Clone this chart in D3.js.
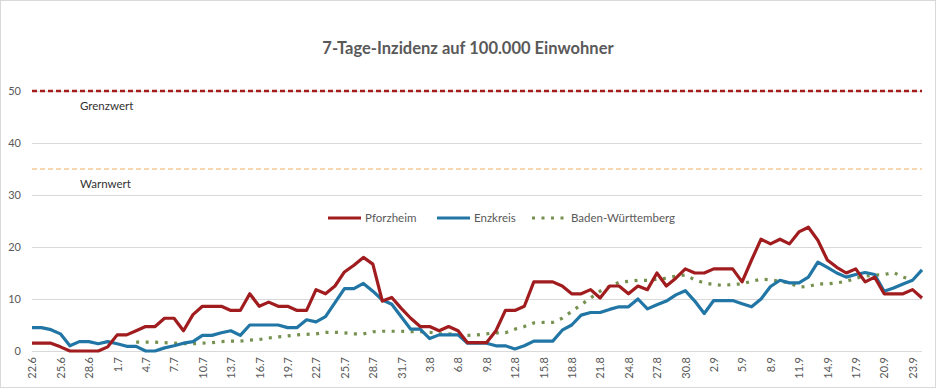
<!DOCTYPE html>
<html>
<head>
<meta charset="utf-8">
<script src="https://cdn.jsdelivr.net/npm/d3@7"></script>
<style>
    body { margin: 0; background: #fff; }
    text { font-family: Lato, "Open Sans", sans-serif; fill: #595959; }
</style>
</head>
<body>
<div id="chart"></div>
<script>
const dates = [
    '22.6','23.6','24.6','25.6','26.6','27.6','28.6','29.6','30.6',
    '1.7','2.7','3.7','4.7','5.7','6.7','7.7','8.7','9.7','10.7','11.7','12.7','13.7','14.7','15.7','16.7',
    '17.7','18.7','19.7','20.7','21.7','22.7','23.7','24.7','25.7','26.7','27.7','28.7','29.7','30.7','31.7',
    '1.8','2.8','3.8','4.8','5.8','6.8','7.8','8.8','9.8','10.8','11.8','12.8','13.8','14.8','15.8','16.8',
    '17.8','18.8','19.8','20.8','21.8','22.8','23.8','24.8','25.8','26.8','27.8','28.8','29.8','30.8','31.8',
    '1.9','2.9','3.9','4.9','5.9','6.9','7.9','8.9','9.9','10.9','11.9','12.9','13.9','14.9','15.9','16.9',
    '17.9','18.9','19.9','20.9','21.9','22.9','23.9','24.9'
];

const tickLabels = ['22.6','25.6','28.6','1.7','4.7','7.7','10.7','13.7','16.7','19.7','22.7','25.7','28.7','31.7',
    '3.8','6.8','9.8','12.8','15.8','18.8','21.8','24.8','27.8','30.8','2.9','5.9','8.9','11.9','14.9','17.9','20.9','23.9'];

const pforzheim = [1.5,1.5,1.5,0.8,0,0,0,0,0.8,
    3.1,3.1,3.9,4.7,4.7,6.3,6.3,3.9,7.0,8.6,8.6,8.6,7.8,7.8,11.0,8.6,9.4,8.6,8.6,7.8,7.8,11.8,11.0,12.5,15.2,16.5,18.0,16.7,9.6,10.3,8.2,
    6.3,4.7,4.7,3.9,4.7,3.9,1.6,1.6,1.6,3.9,7.8,7.8,8.6,13.3,13.3,13.3,12.5,11.0,11.0,11.8,10.2,12.5,12.5,11.0,12.5,11.8,15.0,12.5,14.0,15.8,15.0,
    15.0,15.8,15.8,15.8,13.3,17.5,21.5,20.6,21.5,20.6,22.9,23.8,21.3,17.5,16.1,15.0,15.8,13.3,14.2,11.0,11.0,11.0,11.8,10.2];

const enzkreis = [4.5,4.5,4.1,3.3,1.0,1.8,1.8,1.4,1.8,
    1.4,0.9,0.9,0,0,0.6,1.0,1.5,1.8,3.0,3.0,3.5,3.9,3.0,5.0,5.0,5.0,5.0,4.5,4.5,6.0,5.6,6.6,9.3,12.0,12.0,13.0,11.5,9.8,9.0,6.6,
    4.2,4.2,2.4,3.1,3.1,3.1,1.5,1.5,1.5,1.0,1.0,0.4,1.0,1.9,1.9,1.9,4.0,5.0,6.9,7.4,7.4,8.0,8.5,8.5,10.0,8.1,8.9,9.6,10.8,11.6,9.6,
    7.2,9.7,9.7,9.7,9.1,8.5,10.0,12.4,13.6,13.1,13.1,14.2,17.1,16.1,15.0,14.2,14.7,15.1,14.7,11.5,12.1,12.9,13.6,15.6];

const badenWuerttemberg = [null,null,null,null,null,null,null,null,null,
    null,null,1.7,1.7,1.7,1.6,1.5,1.4,1.4,1.5,1.6,1.8,1.9,1.9,2.1,2.2,2.5,2.7,2.9,3.1,3.2,3.3,3.6,3.6,3.5,3.3,3.3,3.7,3.8,3.8,3.8,
    3.7,3.7,3.6,3.3,3.3,3.1,3.0,3.1,3.3,3.5,3.5,4.2,4.7,5.4,5.5,5.5,6.3,7.6,8.9,10.2,11.5,12.4,13.2,13.4,13.6,13.6,13.8,14.0,14.4,14.6,13.7,
    13.1,12.8,12.6,12.8,12.9,13.4,13.8,13.7,13.4,13.1,12.3,12.4,12.9,12.9,13.1,13.4,14.0,14.4,14.6,14.7,15.1,14.2,13.7,null];

const yTicks = [0, 10, 20, 30, 40, 50];
const limits = [
    { value: 50, label: 'Grenzwert', color: '#a31d1d', width: 2.5 },
    { value: 35, label: 'Warnwert', color: '#f5c996', width: 1.6 }
];

const series = [
    { name: 'Pforzheim', values: pforzheim, color: '#a01c1e', dash: null },
    { name: 'Enzkreis', values: enzkreis, color: '#2176a5', dash: null },
    { name: 'Baden-Württemberg', values: badenWuerttemberg, color: '#76904f', dash: '3 6.5' }
];

const width = 937;
const height = 389;
const margin = { top: 91, right: 15, bottom: 38, left: 32 };

const svg = d3.select('#chart')
    .append('svg')
    .attr('width', width)
    .attr('height', height);

// outer frame
svg.append('rect')
    .attr('x', 0.5).attr('y', 0.5)
    .attr('width', width - 2).attr('height', height - 2)
    .attr('fill', '#fff')
    .attr('stroke', '#d9d9d9');

const x = d3.scalePoint()
    .domain(dates)
    .range([margin.left, width - margin.right]);

const y = d3.scaleLinear()
    .domain([0, 50])
    .range([height - margin.bottom, margin.top]);

// gridlines
svg.append('g')
    .selectAll('line')
    .data(yTicks)
    .enter()
    .append('line')
    .attr('x1', margin.left)
    .attr('x2', width - margin.right)
    .attr('y1', d => y(d) + 0.5)
    .attr('y2', d => y(d) + 0.5)
    .attr('stroke', '#d9d9d9');

// y labels
svg.append('g')
    .selectAll('text')
    .data(yTicks)
    .enter()
    .append('text')
    .attr('x', 21)
    .attr('y', d => y(d))
    .attr('dy', '0.35em')
    .attr('text-anchor', 'end')
    .style('font-size', '11px')
    .text(d => d);

// x axis
const xAxis = d3.axisBottom(x)
    .tickValues(tickLabels)
    .tickSize(0)
    .tickPadding(0);

const gx = svg.append('g')
    .attr('transform', `translate(0, ${y(0)})`)
    .call(xAxis);
gx.select('.domain').remove();
gx.selectAll('text')
    .attr('transform', 'rotate(-90)')
    .attr('x', -6)
    .attr('y', 0)
    .attr('dy', '0.35em')
    .attr('text-anchor', 'end')
    .style('font-size', '11px')
    .style('fill', '#595959');

// limit lines
limits.forEach(l => {
    svg.append('line')
        .attr('x1', margin.left)
        .attr('x2', width - margin.right)
        .attr('y1', y(l.value))
        .attr('y2', y(l.value))
        .attr('stroke', l.color)
        .attr('stroke-width', l.width)
        .attr('stroke-dasharray', '5 3');
    svg.append('text')
        .attr('x', 80)
        .attr('y', y(l.value) + 19)
        .style('font-size', '11.5px')
        .style('fill', '#333')
        .text(l.label);
});

// series lines
const line = d3.line()
    .defined(d => d !== null)
    .x((d, i) => x(dates[i]))
    .y(d => y(d));

series.slice().reverse().forEach(s => {
    svg.append('path')
        .datum(s.values)
        .attr('fill', 'none')
        .attr('stroke', s.color)
        .attr('stroke-width', 3.2)
        .attr('stroke-linejoin', 'round')
        .attr('stroke-dasharray', s.dash)
        .attr('d', line);
});

// legend
const legendX = [328, 437, 532];
const legend = svg.append('g').attr('transform', 'translate(0, 218)');
series.forEach((s, i) => {
    legend.append('line')
        .attr('x1', legendX[i])
        .attr('x2', legendX[i] + 33)
        .attr('stroke', s.color)
        .attr('stroke-width', 3.2)
        .attr('stroke-dasharray', s.dash);
    legend.append('text')
        .attr('x', legendX[i] + (s.dash ? 39 : 37))
        .attr('dy', '0.35em')
        .style('font-size', '11.5px')
        .text(s.name);
});

// title
svg.append('text')
    .attr('x', 468)
    .attr('y', 54)
    .attr('text-anchor', 'middle')
    .style('font-size', '16.5px')
    .style('font-weight', 'bold')
    .text('7-Tage-Inzidenz auf 100.000 Einwohner');
</script>
</body>
</html>
